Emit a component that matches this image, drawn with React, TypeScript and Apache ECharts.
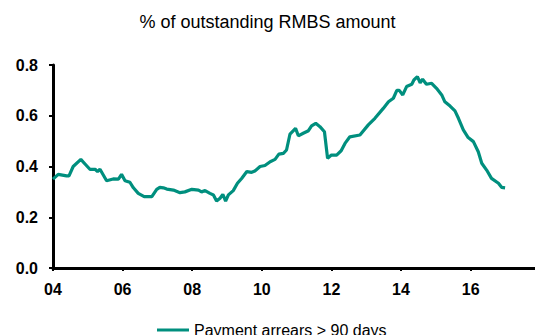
import React, { useEffect, useRef } from "react";
import * as echarts from "echarts";

// Decimal year of each observation
const years = [
  2004.0, 2004.15, 2004.39, 2004.46, 2004.58, 2004.8, 2004.92, 2005.06, 2005.21, 2005.28,
  2005.35, 2005.54, 2005.73, 2005.88, 2005.97, 2006.07, 2006.21, 2006.31, 2006.45, 2006.62,
  2006.84, 2006.98, 2007.07, 2007.17, 2007.27, 2007.46, 2007.65, 2007.79, 2007.99, 2008.18,
  2008.27, 2008.37, 2008.51, 2008.61, 2008.7, 2008.8, 2008.88, 2008.96, 2009.04, 2009.18,
  2009.3, 2009.42, 2009.57, 2009.71, 2009.8, 2009.95, 2010.09, 2010.24, 2010.38, 2010.49,
  2010.62, 2010.71, 2010.81, 2010.97, 2011.05, 2011.19, 2011.34, 2011.43, 2011.55, 2011.67,
  2011.8, 2011.89, 2012.0, 2012.15, 2012.28, 2012.39, 2012.53, 2012.82, 2013.06, 2013.25,
  2013.49, 2013.64, 2013.78, 2013.88, 2013.95, 2014.05, 2014.16, 2014.31, 2014.37, 2014.47,
  2014.55, 2014.62, 2014.73, 2014.88, 2015.02, 2015.17, 2015.26, 2015.41, 2015.55, 2015.65,
  2015.79, 2015.93, 2016.08, 2016.22, 2016.32, 2016.46, 2016.6, 2016.8, 2016.89, 2016.99,
];

// Payment arrears > 90 days, % of outstanding RMBS amount
const arrears = [
  0.35, 0.369, 0.363, 0.363, 0.4, 0.428, 0.41, 0.389, 0.389, 0.38,
  0.389, 0.344, 0.351, 0.35, 0.369, 0.344, 0.338, 0.316, 0.294, 0.281,
  0.281, 0.31, 0.318, 0.316, 0.311, 0.307, 0.297, 0.3, 0.31, 0.307,
  0.3, 0.305, 0.294, 0.288, 0.264, 0.275, 0.29, 0.264, 0.288, 0.305,
  0.334, 0.353, 0.38, 0.377, 0.382, 0.4, 0.404, 0.419, 0.428, 0.449,
  0.452, 0.465, 0.528, 0.55, 0.521, 0.531, 0.541, 0.56, 0.57, 0.557,
  0.537, 0.432, 0.445, 0.445, 0.462, 0.491, 0.517, 0.524, 0.564, 0.59,
  0.629, 0.655, 0.669, 0.7, 0.7, 0.682, 0.715, 0.724, 0.741, 0.754,
  0.73, 0.744, 0.724, 0.728, 0.708, 0.682, 0.655, 0.638, 0.619, 0.59,
  0.544, 0.514, 0.498, 0.458, 0.413, 0.386, 0.353, 0.334, 0.318, 0.316,
];

const seriesName = "Payment arrears > 90 days";
const titleText = "% of outstanding RMBS amount";
const FONT = "Arial, 'Liberation Sans', sans-serif";
const TEAL = "#008f7e";

export default function App() {
  const ref = useRef<HTMLDivElement>(null);

  useEffect(() => {
    if (!ref.current) return;
    const chart = echarts.init(ref.current, undefined, { renderer: "svg" });
    chart.setOption({
      animation: false,
      backgroundColor: "#ffffff",
      title: {
        text: titleText,
        left: "center",
        top: 8,
        textStyle: { fontFamily: FONT, fontSize: 18, fontWeight: "normal", color: "#000" },
      },
      legend: {
        left: 157,
        top: 322,
        icon: "rect",
        itemWidth: 32,
        itemHeight: 3,
        itemGap: 0,
        padding: 0,
        textStyle: { fontFamily: FONT, fontSize: 16, color: "#000" },
        data: [seriesName],
      },
      grid: { left: 53, right: 0, top: 65, bottom: 67, containLabel: false },
      xAxis: {
        type: "value",
        min: 2004,
        max: 2017.85,
        interval: 2,
        splitLine: { show: false },
        axisLine: { show: true, onZero: false, lineStyle: { color: "#000", width: 3 } },
        axisTick: { show: true, length: 3, lineStyle: { color: "#000", width: 2 } },
        axisLabel: {
          fontFamily: FONT,
          fontSize: 16,
          fontWeight: "bold",
          color: "#000",
          margin: 13,
          showMaxLabel: false,
          formatter: (v: number) =>
            Number.isInteger(v) && v % 2 === 0 ? String(v % 100).padStart(2, "0") : "",
        },
      },
      yAxis: {
        type: "value",
        min: 0,
        max: 0.8,
        interval: 0.2,
        splitLine: { show: false },
        axisLine: { show: true, lineStyle: { color: "#000", width: 3 } },
        axisTick: { show: true, length: 4, lineStyle: { color: "#000", width: 2 } },
        axisLabel: {
          fontFamily: FONT,
          fontSize: 16,
          fontWeight: "bold",
          color: "#000",
          margin: 15,
          formatter: (v: number) => v.toFixed(1),
        },
      },
      series: [
        {
          name: seriesName,
          type: "line",
          data: years.map((y, i) => [y, arrears[i]]),
          showSymbol: false,
          symbol: "none",
          lineStyle: { color: TEAL, width: 3.2 },
          itemStyle: { color: TEAL },
        },
      ],
    });
    return () => chart.dispose();
  }, []);

  return (
    <div
      ref={ref}
      style={{ position: "absolute", left: 0, top: 0, width: 535, height: 335 }}
    />
  );
}
